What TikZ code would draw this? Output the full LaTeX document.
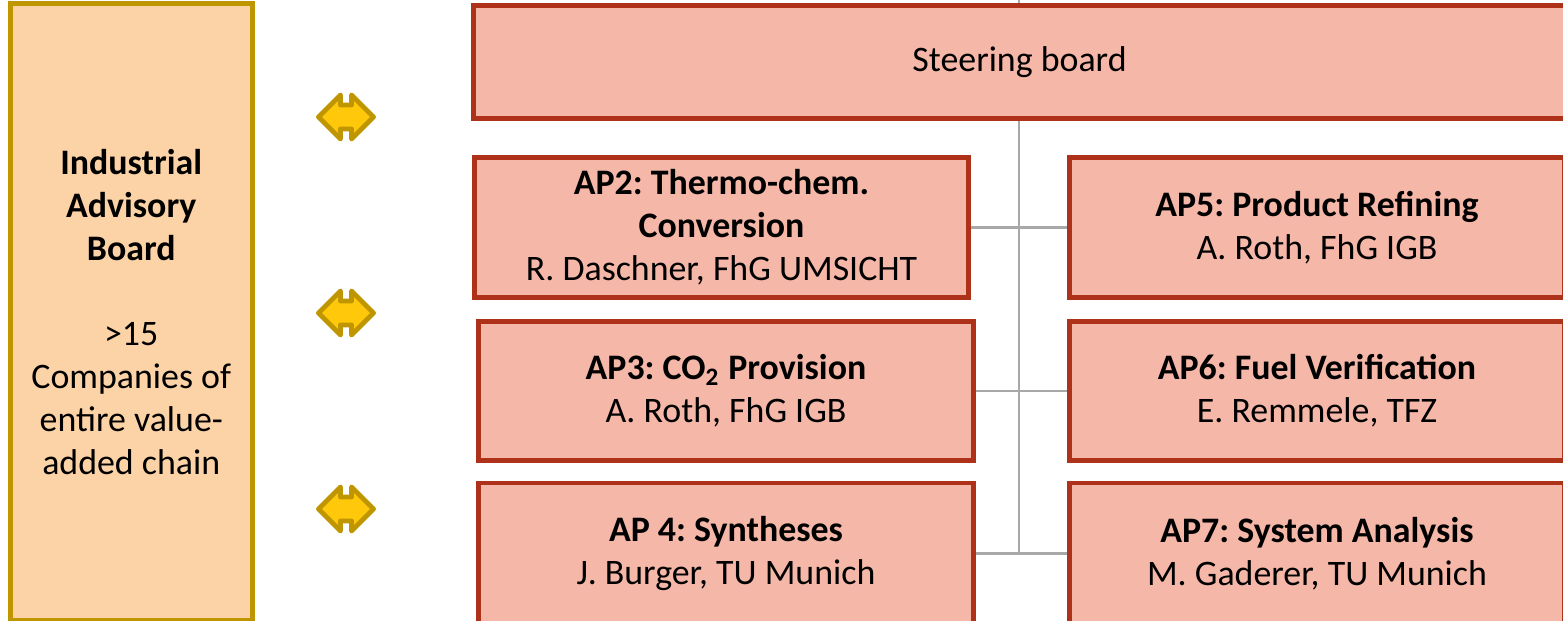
\documentclass[tikz,border=0pt]{standalone}
\usepackage{fontspec}
\setmainfont{Carlito}
\usepackage{tikz}
\frenchspacing

\definecolor{wpfill}{RGB}{245,183,168}
\definecolor{wpline}{RGB}{174,50,26}
\definecolor{iabfill}{RGB}{252,211,166}
\definecolor{goldline}{RGB}{191,150,0}
\definecolor{goldfill}{RGB}{255,200,10}
\definecolor{linkgray}{RGB}{168,168,168}

\begin{document}
\begin{tikzpicture}[x=0.01cm, y=-0.01cm,
  wpbox/.style={draw=wpline, fill=wpfill, line width=1.4pt, inner sep=0pt,
    align=center, font=\fontsize{10.2}{12.2}\selectfont},
  iabbox/.style={draw=goldline, fill=iabfill, line width=1.4pt, inner sep=0pt,
    align=center, font=\fontsize{10.2}{12.2}\selectfont},
  link/.style={draw=linkgray, line width=0.6pt},
  bidir/.pic={
    \draw[draw=goldline, fill=goldfill, line width=1.4pt, line join=round]
      (-27.5,0) -- (-5.5,-22) -- (-5.5,-12) -- (5.5,-12) -- (5.5,-22) -- (27.5,0)
      -- (5.5,22) -- (5.5,12) -- (-5.5,12) -- (-5.5,22) -- cycle;
  }]

\useasboundingbox (0,0) rectangle (1563,621);

% Spine behind the boxes
\coordinate (spinetop) at (1019,0);
\draw[link] (spinetop) -- (1019,553.5);

% Industrial advisory board
\node[iabbox, minimum width=2.415cm, minimum height=6.17cm] (iab) at (131.25,312)
  {\textbf{Industrial}\\\textbf{Advisory}\\\textbf{Board}\\[12.2pt]
   >15\\Companies of\\entire value-\\added chain};

% Arrows to the board
\pic (arr1) at (346,117) {bidir};
\pic (arr2) at (346,313) {bidir};
\pic (arr3) at (346,509) {bidir};

% Steering board
\node[wpbox, minimum width=10.905cm, minimum height=1.125cm] (steer) at (1019.5,62)
  {Steering board};

% Work packages, left column
\node[wpbox, minimum width=4.93cm, minimum height=1.39cm] (ap2) at (721.5,227.5)
  {\textbf{AP2: Thermo-chem.}\\\textbf{Conversion}\\R. Daschner, FhG UMSICHT};
\node[wpbox, minimum width=4.94cm, minimum height=1.39cm] (ap3) at (726,391)
  {\textbf{AP3: CO\textsubscript{2} Provision}\\A. Roth, FhG IGB};
\node[wpbox, minimum width=4.94cm, minimum height=1.41cm] (ap4) at (726,553.5)
  {\textbf{AP 4: Syntheses}\\J. Burger, TU Munich};

% Work packages, right column
\node[wpbox, minimum width=4.94cm, minimum height=1.39cm] (ap5) at (1317,227.5)
  {\textbf{AP5: Product Refining}\\A. Roth, FhG IGB};
\node[wpbox, minimum width=4.94cm, minimum height=1.39cm] (ap6) at (1317,391)
  {\textbf{AP6: Fuel Verification}\\E. Remmele, TFZ};
\node[wpbox, minimum width=4.94cm, minimum height=1.41cm] (ap7) at (1317,553.5)
  {\textbf{AP7: System Analysis}\\M. Gaderer, TU Munich};

% Branches
\draw[link] (ap2.east) -- (ap5.west);
\draw[link] (ap3.east) -- (ap6.west);
\draw[link] (ap4.east) -- (ap7.west);

\end{tikzpicture}
\end{document}
